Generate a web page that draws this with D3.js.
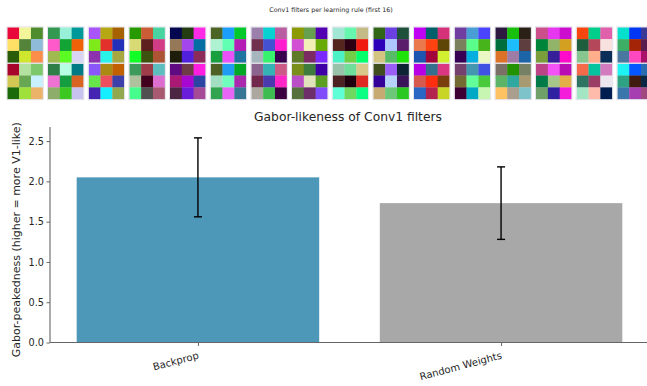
<!DOCTYPE html>
<html>
<head>
<meta charset="utf-8">
<script src="https://cdn.jsdelivr.net/npm/d3@7"></script>
<style>
  html, body { margin: 0; padding: 0; background: #fff; }
  svg { display: block; font-family: "DejaVu Sans", sans-serif; }
</style>
</head>
<body>
<svg id="chart" width="647" height="386"></svg>
<script>
// Learning rules compared
const categories = ["Backprop", "Random Weights"];
// Mean Gabor-peakedness per rule and its spread (error bar half-length)
const means = [2.05, 1.73];
const errors = [0.49, 0.45];
const yTicks = [0.0, 0.5, 1.0, 1.5, 2.0, 2.5];
const barColors = ["#4D98B9", "#A8A8A8"];

// First 16 conv1 filters per rule, each a 3x3 RGB kernel (row-major)
const backpropFilters = [
  ["#E8093A","#F2F59A","#4E8C2E","#FEE066","#54843A","#8FBAD8","#2A5C0A","#CFE62E","#FA8E4A"],
  ["#339850","#98F0D8","#00999A","#FF5ACA","#12A535","#F06208","#A0BA50","#5AFA22","#D8D4F2"],
  ["#AA55FA","#B6A812","#A66200","#7EEA1A","#E3302A","#2430B8","#8C32AE","#29F2E8","#A8A843"],
  ["#269A00","#CC5C36","#48D4A0","#D8DA74","#5E1E1E","#D23C84","#12FE26","#3C520E","#AC5434"],
  ["#040650","#243C12","#FF2AE6","#947858","#A446EE","#046EA2","#1E1C0A","#5020DC","#8C2A5A"],
  ["#4C6424","#1A9EFA","#02C82A","#AEF2D2","#62FEB2","#B41EB4","#18A03E","#E852F6","#2074A0"],
  ["#9A80AA","#06D2D2","#BA5EA2","#70304E","#4452D2","#FE1ECE","#A6B6BC","#36F26C","#38004E"],
  ["#8C9A06","#66A04E","#5200B2","#D24ED2","#F2EEB8","#6AAA06","#5E7A28","#7C2A62","#7A2AFE"],
  ["#A2E6D4","#66F6AE","#C4BA88","#54261E","#2A0012","#F01A0E","#4CF2C6","#72CE48","#02FE6A"],
  ["#306616","#6A40E0","#1E503A","#2A00B8","#AEC6FE","#5A1E6A","#D4C482","#56BA66","#1EE20A"],
  ["#C000F2","#00606A","#D6327A","#EA7A4E","#FF4212","#604606","#1C56B0","#A0043A","#D0F030"],
  ["#703EA0","#4A9ED6","#4A44FE","#7A805C","#5AFE8A","#46B41A","#380052","#04AEDE","#EAF8C4"],
  ["#2E1A40","#18C00C","#2A2016","#006E3A","#1EBEFE","#5E3E3E","#DC7228","#9E7CA6","#1C64A6"],
  ["#CC4E8A","#E636F0","#CC0CCE","#00843A","#92B46A","#D4A022","#7A9E3A","#36209A","#FE0CCA"],
  ["#F8460E","#00CE8A","#E060AC","#1E5E3E","#B4485A","#F8E2E0","#88C690","#FEAE8A","#0A2E58"],
  ["#04E0CC","#0036F4","#3A3A96","#3CAE66","#A42408","#5A1E4E","#4878A0","#FE48C0","#A8106A"]
];
const randomFilters = [
  ["#A8062A","#B3E2A0","#7CC86A","#D1C954","#67A652","#C8F0FE","#1A6A0A","#9FE03A","#EBB26A"],
  ["#2E7E48","#B5FFE2","#007A84","#EE72D2","#159E40","#D86424","#8DAE6A","#3CC820","#C8C2EE"],
  ["#8A55FA","#AA8A12","#C06000","#66E64A","#EC505E","#3C40A8","#4624B2","#14EEFE","#92A84E"],
  ["#3E9A5A","#9E3C4A","#5EBEBE","#AEC29E","#42001E","#DC6ED0","#46FC8C","#505050","#A85A70"],
  ["#600A82","#6E3C46","#FF1EE0","#AA1A74","#A608D2","#2C44A2","#4C2642","#6A1EDA","#A44A96"],
  ["#4E6024","#209CF2","#02A826","#A2DEC2","#70FEBE","#AA2AAE","#32A450","#E866F4","#387696"],
  ["#8C6490","#34B2B4","#CC5A86","#72284C","#4A3AAE","#FE26C6","#ACA8A0","#3EBC52","#3C0040"],
  ["#7A8E1A","#3E7C3E","#3E00A6","#BA4EC6","#E0E2BA","#5A9E22","#56703E","#6E2E6A","#7E4CFA"],
  ["#98C2AA","#6EDE9A","#D8C88A","#4C2222","#20000E","#DE2A22","#5EFED6","#6ED860","#0CFE82"],
  ["#404E1E","#9A5EF6","#0E2434","#320098","#B8D2FE","#3A1458","#C6AA72","#6CC878","#2CC822"],
  ["#B800E6","#34708E","#DA3682","#D65A4E","#FF2E0E","#7A3E0E","#2A66C4","#B4224E","#C8D426"],
  ["#76406E","#4296AE","#4052E2","#746A34","#62FE9A","#48CA3C","#3E0032","#00A8C6","#C6F6B2"],
  ["#7A7066","#229200","#768064","#5EB466","#30A8A0","#A89A70","#FEC262","#AA9E8E","#7EC2CA"],
  ["#BC4486","#F452F6","#BA0CB4","#007A46","#A6C68A","#E2B046","#6EA068","#2E22A2","#F41EDA"],
  ["#F46A4A","#04C4A0","#D47ABE","#2E7462","#9A3E66","#ECE6EE","#A4E6C4","#FEBAAA","#001E50"],
  ["#1EF2F2","#0456FE","#2A6CB0","#2EA282","#401C10","#0A2844","#3A76AC","#A63EB2","#A04A80"]
];
const filterRows = [backpropFilters, randomFilters];

const svg = d3.select("#chart");
const textColor = "#262626";

// ---- Filter strip -------------------------------------------------------
svg.append("text")
  .attr("x", 331).attr("y", 11.5)
  .attr("text-anchor", "middle")
  .attr("font-size", 6.3)
  .attr("fill", textColor)
  .text("Conv1 filters per learning rule (first 16)");

const tileSize = 35.5;
const tileX = d3.scaleLinear().domain([0, 1]).range([7.3, 7.3 + 40.67]);
const tileY = d3.scaleLinear().domain([0, 1]).range([27.3, 27.3 + 36.4]);
const cell = d3.scaleBand().domain([0, 1, 2]).range([0, tileSize]);

filterRows.forEach((row, r) => {
  row.forEach((kernel, f) => {
    const g = svg.append("g")
      .attr("transform", `translate(${tileX(f)},${tileY(r)})`);
    g.selectAll("rect.px")
      .data(kernel)
      .join("rect")
      .attr("class", "px")
      .attr("x", (d, i) => cell(i % 3))
      .attr("y", (d, i) => cell(Math.floor(i / 3)))
      .attr("width", cell.bandwidth() + 0.3)
      .attr("height", cell.bandwidth() + 0.3)
      .attr("fill", d => d);
    g.append("rect")
      .attr("x", -0.5).attr("y", -0.5)
      .attr("width", tileSize + 1).attr("height", tileSize + 1)
      .attr("fill", "none")
      .attr("stroke", "#e4e4ec")
      .attr("stroke-width", 1);
  });
});

// ---- Bar chart ---------------------------------------------------------
const plot = { left: 50, right: 649, top: 127, bottom: 342.5 };

const x = d3.scaleLinear()
  .domain([-0.488, 1.488])
  .range([plot.left, plot.right]);
const y = d3.scaleLinear()
  .domain([0, 2.675])
  .range([plot.bottom, plot.top]);

const barWidth = 0.8;

svg.append("text")
  .attr("x", 348).attr("y", 121)
  .attr("text-anchor", "middle")
  .attr("font-size", 12.3)
  .attr("fill", textColor)
  .text("Gabor-likeness of Conv1 filters");

svg.selectAll("rect.bar")
  .data(categories)
  .join("rect")
  .attr("class", "bar")
  .attr("x", (d, i) => x(i - barWidth / 2))
  .attr("width", (d, i) => x(i + barWidth / 2) - x(i - barWidth / 2))
  .attr("y", (d, i) => y(means[i]))
  .attr("height", (d, i) => y(0) - y(means[i]))
  .attr("fill", (d, i) => barColors[i]);

// Error bars
const eb = svg.selectAll("g.err")
  .data(categories)
  .join("g")
  .attr("class", "err")
  .attr("stroke", "#000")
  .attr("stroke-width", 1.4);
eb.append("line")
  .attr("x1", (d, i) => x(i)).attr("x2", (d, i) => x(i))
  .attr("y1", (d, i) => y(means[i] - errors[i]))
  .attr("y2", (d, i) => y(means[i] + errors[i]));
eb.append("line")
  .attr("x1", (d, i) => x(i) - 4).attr("x2", (d, i) => x(i) + 4)
  .attr("y1", (d, i) => y(means[i] + errors[i]))
  .attr("y2", (d, i) => y(means[i] + errors[i]));
eb.append("line")
  .attr("x1", (d, i) => x(i) - 4).attr("x2", (d, i) => x(i) + 4)
  .attr("y1", (d, i) => y(means[i] - errors[i]))
  .attr("y2", (d, i) => y(means[i] - errors[i]));

// Y axis
const yAxis = d3.axisLeft(y)
  .tickValues(yTicks)
  .tickFormat(d3.format(".1f"))
  .tickSize(3.5)
  .tickPadding(2.5);
const yg = svg.append("g")
  .attr("transform", `translate(${plot.left},0)`)
  .call(yAxis);
yg.select(".domain").attr("stroke", "#666").attr("stroke-width", 1.1)
  .attr("d", `M0,${plot.top}V${plot.bottom}`);
yg.selectAll(".tick line").attr("stroke", "#666").attr("stroke-width", 1);
yg.selectAll(".tick text")
  .attr("font-size", 9.7)
  .attr("fill", textColor)
  .attr("font-family", "DejaVu Sans");

// X axis
const xAxis = d3.axisBottom(x)
  .tickValues(categories.map((d, i) => i))
  .tickFormat(i => categories[i])
  .tickSize(3.5);
const xg = svg.append("g")
  .attr("transform", `translate(0,${plot.bottom})`)
  .call(xAxis);
xg.select(".domain").attr("stroke", "#666").attr("stroke-width", 1.1)
  .attr("d", `M${plot.left},0H${plot.right}`);
xg.selectAll(".tick line").attr("stroke", "#666").attr("stroke-width", 1);
xg.selectAll(".tick text")
  .attr("font-size", 10)
  .attr("fill", textColor)
  .attr("font-family", "DejaVu Sans")
  .attr("text-anchor", "end")
  .attr("dy", null)
  .attr("y", 0)
  .attr("dominant-baseline", "hanging")
  .attr("transform", "translate(-1,9) rotate(-15)");

// Y label
svg.append("text")
  .attr("transform", `translate(16.5,${(plot.top + plot.bottom) / 2 + 5}) rotate(-90)`)
  .attr("text-anchor", "middle")
  .attr("dominant-baseline", "middle")
  .attr("font-size", 11)
  .attr("fill", textColor)
  .text("Gabor-peakedness (higher = more V1-like)");
</script>
</body>
</html>
